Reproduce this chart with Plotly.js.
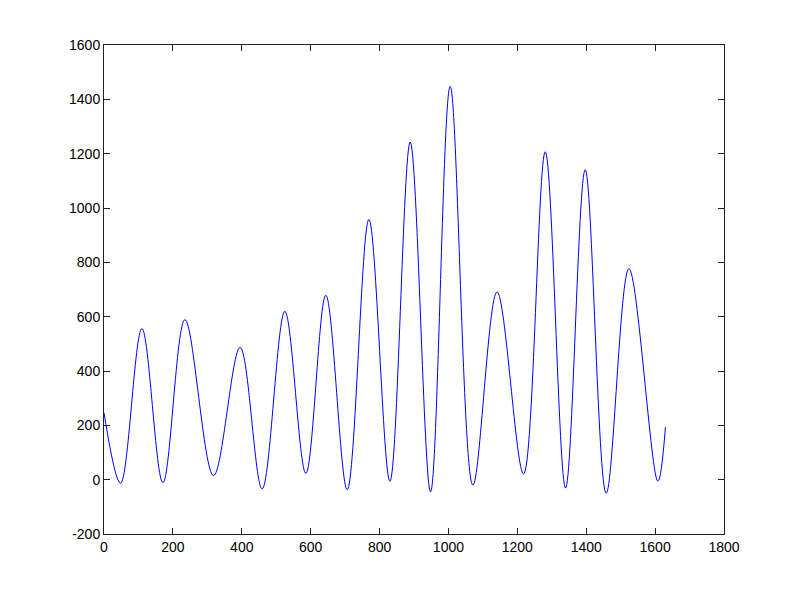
<!DOCTYPE html>
<html>
<head>
<meta charset="utf-8">
<script src="https://cdn.plot.ly/plotly-3.0.1.min.js"></script>
<style>html,body{margin:0;padding:0;background:#fff;}#chart{width:800px;height:600px;}</style>
</head>
<body>
<div id="chart"></div>
<script>
// Curve points (start, alternating troughs/peaks, end)
var xValues = [0, 48, 110, 171, 235, 318, 395, 459, 525, 586, 644, 706, 769, 830, 889, 948, 1005, 1071, 1141, 1218, 1281, 1340, 1397, 1458, 1524, 1608, 1630];
var yValues = [246, -13, 556, -11, 589, 15, 487, -34, 620, 23, 679, -37, 958, -6, 1243, -45, 1448, -20, 691, 21, 1207, -31, 1141, -50, 777, -6, 193];

var xTickVals = [0, 200, 400, 600, 800, 1000, 1200, 1400, 1600, 1800];
var xTickText = ['0', '200', '400', '600', '800', '1000', '1200', '1400', '1600', '1800'];
var yTickVals = [-200, 0, 200, 400, 600, 800, 1000, 1200, 1400, 1600];
var yTickText = ['-200', '0', '200', '400', '600', '800', '1000', '1200', '1400', '1600'];

var trace = {
  x: xValues,
  y: yValues,
  type: 'scatter',
  mode: 'lines',
  line: {color: '#0000ff', width: 1, shape: 'spline', smoothing: 1},
  hoverinfo: 'none'
};

var axisCommon = {
  showgrid: false,
  zeroline: false,
  showline: true,
  linecolor: '#222',
  linewidth: 1,
  mirror: 'ticks',
  ticks: 'inside',
  ticklen: 6,
  tickwidth: 1,
  tickcolor: '#222',
  tickfont: {family: 'Liberation Sans, Arial, sans-serif', size: 14, color: '#000'},
  tickmode: 'array'
};

var layout = {
  width: 800,
  height: 600,
  paper_bgcolor: '#fff',
  plot_bgcolor: '#fff',
  showlegend: false,
  margin: {l: 104, r: 76, t: 45, b: 66},
  xaxis: Object.assign({}, axisCommon, {range: [0, 1800], tickvals: xTickVals, ticktext: xTickText}),
  yaxis: Object.assign({}, axisCommon, {range: [-200, 1600], tickvals: yTickVals, ticktext: yTickText})
};

Plotly.newPlot('chart', [trace], layout, {staticPlot: true, displayModeBar: false});
</script>
</body>
</html>
